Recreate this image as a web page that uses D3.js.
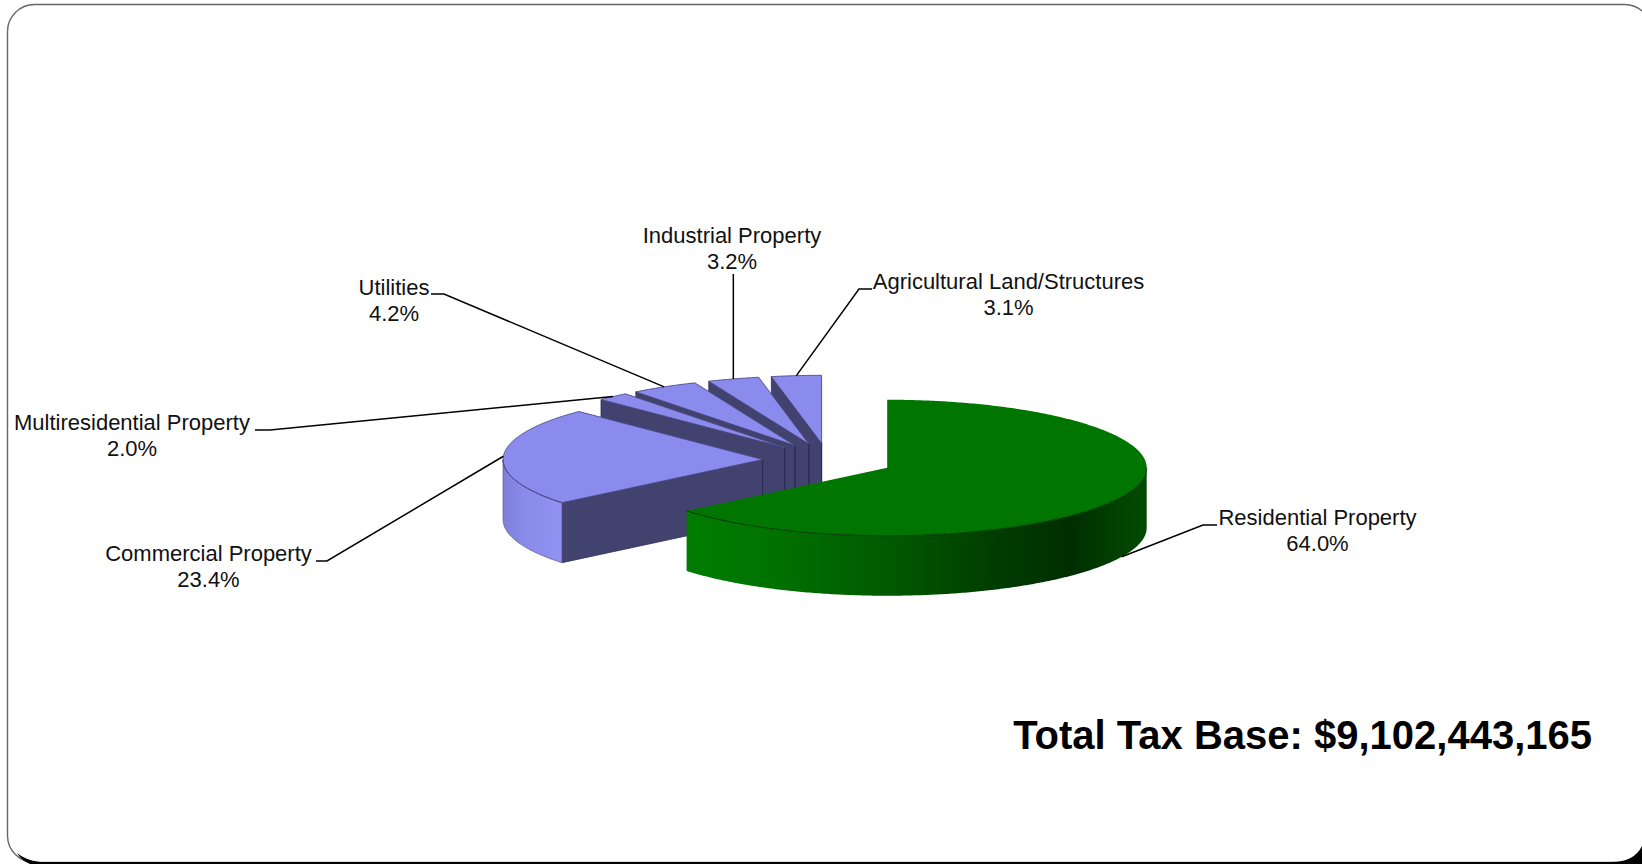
<!DOCTYPE html>
<html>
<head>
<meta charset="utf-8">
<title>Total Tax Base</title>
<script src="https://cdn.jsdelivr.net/npm/d3@7/dist/d3.min.js"></script>
<style>
  html, body { margin: 0; padding: 0; background: #fff; }
  svg { display: block; }
  text { font-family: "Liberation Sans", Arial, sans-serif; fill: #111; }
</style>
</head>
<body>
<script>
// Tax base composition, clockwise from twelve o'clock
const categories = ["Residential Property", "Commercial Property", "Multiresidential Property",
                    "Utilities", "Industrial Property", "Agricultural Land/Structures"];
const shares = [64.0, 23.4, 2.0, 4.2, 3.2, 3.1];
const totalLabel = "Total Tax Base: $9,102,443,165";

// Label anchors and leader elbows, one per category
const labelX = [1317.5, 208.5, 132, 394, 732, 1008.5];
const labelY = [517, 553, 422, 287, 235, 281];
const elbowA = [[1203, 525], [327, 561], [270, 430], [444, 294], [733, 378], [859, 289]];
const elbowB = [[1217, 525], [316, 561], [255, 430], [431, 294], [733, 274], [872, 289]];

const W = 1642, H = 864;
const cx = 828, cy = 460.4, rx = 259.5, ry = 68, depth = 60, explode = 0.2524;

const svg = d3.select("body").append("svg").attr("width", W).attr("height", H);
const defs = svg.append("defs");

function linearGradient(id, x1, x2, stops) {
  const g = defs.append("linearGradient").attr("id", id)
    .attr("gradientUnits", "userSpaceOnUse")
    .attr("x1", x1).attr("x2", x2).attr("y1", 0).attr("y2", 0);
  stops.forEach(([o, c]) => g.append("stop").attr("offset", o).attr("stop-color", c));
}
linearGradient("rimGreen", 687, 1145, [
  [0, "#007c00"], [0.14, "#007600"], [0.42, "#005c00"], [0.68, "#003c00"],
  [0.84, "#002e00"], [0.93, "#004000"], [1, "#004a00"]]);
linearGradient("rimBlue", 503, 562, [[0, "#7f7fda"], [0.35, "#8a8aea"], [1, "#9292f2"]]);

// Frame of the slide
const frame = svg.append("g");
frame.append("rect")
  .attr("x", 7.5).attr("y", 4.5).attr("width", 1644).attr("height", 858).attr("rx", 27)
  .attr("fill", "#fff").attr("stroke", "#666").attr("stroke-width", 1.4);
frame.append("path")
  .attr("d", "M17,853 Q25,860 40,862 L1612,862 Q1634,862 1642,846 L1642,864 L30,864 Q22,861 17,853 Z")
  .attr("fill", "#000");

// Slice angles measured clockwise from the top of the ellipse
const pieData = d3.pie().sort(null).value(d => d)
  .startAngle(0).endAngle(2 * Math.PI)(shares);

const slices = pieData.map((p, i) => {
  const mid = (p.startAngle + p.endAngle) / 2;
  return {
    i, a0: p.startAngle, a1: p.endAngle, mid,
    ox: cx + explode * rx * Math.sin(mid),
    oy: cy - explode * ry * Math.cos(mid)
  };
});

const at = (s, a, drop = 0) => [s.ox + rx * Math.sin(a), s.oy - ry * Math.cos(a) + drop];
const polyline = d3.line();
const sweep = (s, from, to, drop = 0) => {
  const n = Math.max(2, Math.ceil(Math.abs(to - from) / 0.01));
  return d3.range(n + 1).map(k => at(s, from + (to - from) * k / n, drop));
};

const colours = i => i === 0
  ? { top: "#007500", rim: "url(#rimGreen)", edge: "#063f06", wall: "#004000" }
  : { top: "#8b8bee", rim: "url(#rimBlue)", edge: "#4c4c88", wall: "#42426e" };

// Paint from the back slice to the front one
const chart = svg.append("g");
slices.slice().reverse().forEach(s => {
  const c = colours(s.i);
  const g = chart.append("g").attr("class", "slice");

  // Side walls: only faces turned towards the viewer are painted
  if (s.i !== 0) {
    const startEdge = at(s, s.a0);
    g.append("path")
      .attr("d", polyline([[s.ox, s.oy], startEdge, [startEdge[0], startEdge[1] + depth], [s.ox, s.oy + depth]]) + "Z")
      .attr("fill", c.wall).attr("stroke", "#2f2f5c").attr("stroke-width", 0.8);
    g.append("line")
      .attr("x1", s.ox).attr("x2", s.ox).attr("y1", s.oy).attr("y2", s.oy + depth)
      .attr("stroke", "#2a2a55").attr("stroke-width", 1);
  }

  // Outer rim over the front half of the ellipse
  const rimFrom = Math.max(s.a0, Math.PI / 2), rimTo = Math.min(s.a1, 3 * Math.PI / 2);
  if (rimFrom < rimTo) {
    const rim = sweep(s, rimFrom, rimTo).concat(sweep(s, rimTo, rimFrom, depth));
    g.append("path").attr("d", polyline(rim) + "Z")
      .attr("fill", c.rim).attr("stroke", s.i === 0 ? "none" : "#5a5a96").attr("stroke-width", 0.8);
  }

  // Top surface
  const top = [[s.ox, s.oy]].concat(sweep(s, s.a0, s.a1));
  g.append("path").attr("d", polyline(top) + "Z")
    .attr("fill", c.top).attr("stroke", s.i === 0 ? "none" : c.edge).attr("stroke-width", 0.9);

  // Dark seam where the top meets the rim
  if (rimFrom < rimTo) {
    g.append("path").attr("d", polyline(sweep(s, rimFrom, rimTo)))
      .attr("fill", "none").attr("stroke", s.i === 0 ? "#033803" : c.edge).attr("stroke-width", 1);
  }
});

// Leader lines start on the rim at each slice's mid angle
const leaders = svg.append("g").attr("fill", "none").attr("stroke", "#000").attr("stroke-width", 1.5);
slices.forEach(s => {
  const drop = s.i === 0 ? depth : 0;
  const start = at(s, s.mid, drop);
  // The industrial leader is a plain vertical, so it keeps the rim point's x
  const pts = s.i === 4 ? [start, [start[0], elbowB[s.i][1]]] : [start, elbowA[s.i], elbowB[s.i]];
  leaders.append("path").attr("d", polyline(pts));
});

// Category name with its share underneath
const fmt = d3.format(".1f");
const labels = svg.append("g").attr("text-anchor", "middle").attr("font-size", 22);
categories.forEach((name, i) => {
  const t = labels.append("text").attr("x", labelX[i]).attr("y", labelY[i] + 7.5);
  t.append("tspan").attr("x", labelX[i]).text(name);
  t.append("tspan").attr("x", labelX[i]).attr("dy", 26).text(fmt(shares[i]) + "%");
});

svg.append("text")
  .attr("x", 1592).attr("y", 749).attr("text-anchor", "end")
  .attr("font-size", 40).attr("font-weight", "bold")
  .style("fill", "#000").text(totalLabel);
</script>
</body>
</html>
